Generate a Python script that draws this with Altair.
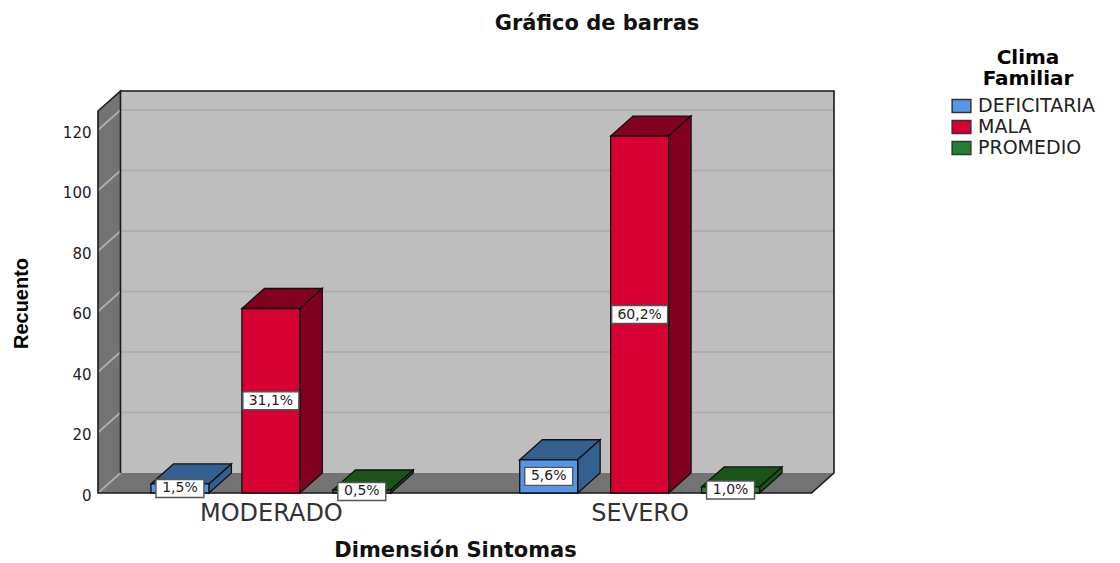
import altair as alt
import pandas as pd

categories = ["MODERADO", "SEVERO"]
series = ["DEFICITARIA", "MALA", "PROMEDIO"]
counts = {"DEFICITARIA": [3, 11], "MALA": [61, 118], "PROMEDIO": [1, 2]}
percents = {"DEFICITARIA": ["1,5%", "5,6%"], "MALA": ["31,1%", "60,2%"], "PROMEDIO": ["0,5%", "1,0%"]}
front_colors = ["#5596E6", "#D70032", "#228030"]
dark_colors = ["#34608F", "#820020", "#1A5218"]
y_ticks = [0, 20, 40, 60, 80, 100, 120]
legend_title_lines = ["Clima", "Familiar"]

# Scale layout: one x unit = the distance between the two category centres
PX_X = 369.0
PX_Y = 3.025
X_L, X_R = -173 / PX_X, 541 / PX_X
DX, DY = 22.5 / PX_X, 20 / PX_Y
Y_FRONT_TOP = 382 / PX_Y
Y_TOP = Y_FRONT_TOP + DY
STEP, BAR_W = 91 / PX_X, 58 / PX_X

FONT = "DejaVu Sans"
x_scale = alt.Scale(domain=[X_L, X_R + DX], nice=False, zero=False)
y_scale = alt.Scale(domain=[0, Y_TOP], nice=False, zero=False)
X = lambda f="x": alt.X(f + ":Q", scale=x_scale, axis=None)
Y = lambda f="y": alt.Y(f + ":Q", scale=y_scale, axis=None)

bars, tops, sides, boxes = [], [], [], []
for ci, cat in enumerate(categories):
    for si, s in enumerate(series):
        v = counts[s][ci]
        x0 = ci + (si - 1) * STEP - BAR_W / 2
        x1 = x0 + BAR_W
        key = f"{ci}-{si}"
        bars.append(dict(serie=s, x=x0, x2=x1, y=0, y2=v))
        tops += [dict(id=key, serie=s, y=v, x=x0, x2=x1), dict(id=key, serie=s, y=v + DY, x=x0 + DX, x2=x1 + DX)]
        sides += [dict(id=key, serie=s, x=x1, y=0, y2=v), dict(id=key, serie=s, x=x1 + DX, y=DY, y2=v + DY)]
        label = percents[s][ci]
        half_w = (28 if len(label) > 4 else 24) / PX_X
        cx = (x0 + x1) / 2
        boxes.append(dict(label=label, cx=cx, cy=v / 2, x=cx - half_w, x2=cx + half_w,
                          y=v / 2 - 9 / PX_Y, y2=v / 2 + 9 / PX_Y))

back = pd.DataFrame([dict(x=X_L + DX, x2=X_R + DX, y=DY, y2=Y_TOP)])
left = pd.DataFrame([dict(x=X_L, y=0, y2=Y_FRONT_TOP), dict(x=X_L + DX, y=DY, y2=Y_TOP)])
floor = pd.DataFrame([dict(y=0, x=X_L, x2=X_R), dict(y=DY, x=X_L + DX, x2=X_R + DX)])
grid = [dict(id=0, x=X_L, y=0), dict(id=0, x=X_L + DX, y=DY)]
for v in y_ticks[1:]:
    grid += [dict(id=v, x=X_L, y=v), dict(id=v, x=X_L + DX, y=v + DY), dict(id=v, x=X_R + DX, y=v + DY)]
grid = pd.DataFrame(grid)
edge_pts = [(X_L + DX, DY), (X_L + DX, Y_TOP), (X_L, Y_FRONT_TOP), (X_L, 0), (X_R, 0), (X_R + DX, DY),
            (X_R + DX, Y_TOP), (X_L + DX, Y_TOP)]
edges = pd.DataFrame([dict(i=i, x=p[0], y=p[1]) for i, p in enumerate(edge_pts)])

back_l = alt.Chart(back).mark_rect(color="#BEBEBE").encode(x=X(), x2="x2:Q", y=Y(), y2="y2:Q")
left_l = alt.Chart(left).mark_area(color="#737373").encode(x=X(), y=Y(), y2="y2:Q")
floor_l = alt.Chart(floor).mark_area(color="#737373", orient="horizontal").encode(y=Y(), x=X(), x2="x2:Q")
grid_l = alt.Chart(grid).mark_line(color="#AEAEAE", strokeWidth=1.8).encode(x=X(), y=Y(), detail="id:N")
edge_l = alt.Chart(edges).mark_line(color="#1A1A1A", strokeWidth=1.6).encode(x=X(), y=Y(), order="i:Q")

dark = alt.Color("serie:N", scale=alt.Scale(domain=series, range=dark_colors), legend=None)
face = dict(stroke="#111111", strokeWidth=1.3)
tops_l = alt.Chart(pd.DataFrame(tops)).mark_area(orient="horizontal", **face).encode(
    y=Y(), x=X(), x2="x2:Q", detail="id:N", color=dark)
sides_l = alt.Chart(pd.DataFrame(sides)).mark_area(**face).encode(
    x=X(), y=Y(), y2="y2:Q", detail="id:N", color=dark)
front_l = alt.Chart(pd.DataFrame(bars)).mark_rect(**face).encode(
    x=X(), x2="x2:Q", y=Y(), y2="y2:Q",
    color=alt.Color("serie:N", scale=alt.Scale(domain=series, range=front_colors),
                    legend=alt.Legend(
                        title=None, orient="none", legendX=853, legendY=6,
                        labelFont=FONT, labelFontSize=19, labelColor="#222222", labelOffset=6,
                        symbolType="M-1,-0.7H1V0.7H-1Z", symbolSize=350,
                        symbolStrokeColor="#333333", symbolStrokeWidth=1.5, symbolOpacity=1,
                        rowPadding=2, clipHeight=18)))

title_a = alt.Chart(pd.DataFrame({"t": legend_title_lines[:1]})).mark_text(
    font=FONT, fontSize=20, fontWeight="bold", color="#000000", align="center", baseline="alphabetic"
).encode(x=alt.value(930), y=alt.value(-27), text="t:N")
title_b = alt.Chart(pd.DataFrame({"t": legend_title_lines[1:]})).mark_text(
    font=FONT, fontSize=20, fontWeight="bold", color="#000000", align="center", baseline="alphabetic"
).encode(x=alt.value(930), y=alt.value(-6), text="t:N")

boxes_df = pd.DataFrame(boxes)
box_l = alt.Chart(boxes_df).mark_rect(fill="#FFFFFF", stroke="#555555", strokeWidth=1.4).encode(
    x=X(), x2="x2:Q", y=Y(), y2="y2:Q")
text_l = alt.Chart(boxes_df).mark_text(font=FONT, fontSize=14, color="#222222").encode(
    x=X("cx"), y=Y("cy"), text="label:N")

cat_expr = "datum.value === 0 ? '%s' : '%s'" % tuple(categories)
axis_x = alt.Chart(pd.DataFrame({"x": [0, 1]})).mark_point(opacity=0).encode(
    x=alt.X("x:Q", scale=x_scale, title="Dimensión Sintomas",
            axis=alt.Axis(values=[0, 1], labelExpr=cat_expr, grid=False, domain=False, ticks=False,
                          labelFont=FONT, labelFontSize=24, labelColor="#333333", labelPadding=8,
                          labelFlush=False,
                          titleFont=FONT, titleFontSize=21, titleFontWeight="bold", titleColor="#111111",
                          titleX=357, titleY=63, titleBaseline="alphabetic")))
axis_y = alt.Chart(pd.DataFrame({"y": y_ticks})).mark_point(opacity=0).encode(
    y=alt.Y("y:Q", scale=y_scale, title="Recuento",
            axis=alt.Axis(values=y_ticks, grid=False, domain=False, ticks=False,
                          labelFont=FONT, labelFontSize=15, labelColor="#222222", labelPadding=7,
                          labelOffset=2,
                          titleFont="Liberation Sans", titleFontSize=20, titleFontWeight="bold",
                          titleColor="#000000", titleX=-67, titleY=212)))

chart = alt.layer(
    back_l, left_l, floor_l, grid_l, edge_l, tops_l, sides_l, front_l, box_l, text_l, axis_x, axis_y,
    title_a, title_b,
).resolve_scale(color="independent").resolve_axis(x="independent", y="independent").properties(
    width=736, height=402,
    autosize=alt.AutoSizeParams(type="none"),
    padding={"left": 90, "top": 83, "right": 278, "bottom": 68},
    title=alt.TitleParams("Gráfico de barras", font=FONT, fontSize=21, fontWeight="bold", color="#111111",
                          anchor="middle", dx=131, offset=-3, baseline="alphabetic"),
).configure_view(stroke=None)

chart.save("out.html", embed_options={"renderer": "svg", "actions": False})
